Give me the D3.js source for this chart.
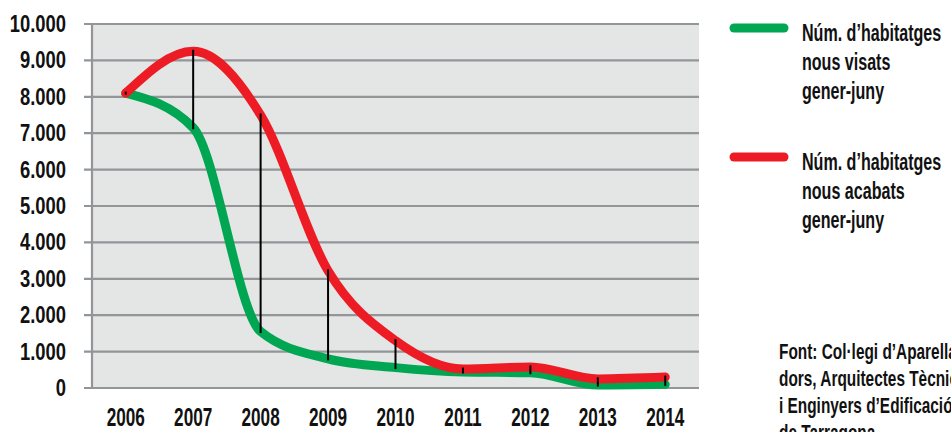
<!DOCTYPE html>
<html>
<head>
<meta charset="utf-8">
<script src="https://cdn.jsdelivr.net/npm/d3@7"></script>
<style>
  body { margin: 0; background: white; }
  text { font-family: "Liberation Sans", Arial, sans-serif; font-weight: bold; fill: #111; }
</style>
</head>
<body>
<svg id="plot"></svg>
<script>
const anys = [2006, 2007, 2008, 2009, 2010, 2011, 2012, 2013, 2014];
const visats = [8100, 7150, 1550, 800, 560, 440, 420, 80, 100];
const acabats = [8100, 9250, 7500, 3220, 1300, 520, 580, 250, 300];
const yTicks = [0, 1000, 2000, 3000, 4000, 5000, 6000, 7000, 8000, 9000, 10000];

const width = 951;
const height = 432;
const area = {top: 24, right: 699, bottom: 388, left: 92};

const plot = d3.select("#plot")
  .attr("width", width)
  .attr("height", height);

const xScale = d3.scalePoint()
  .domain(anys)
  .range([area.left, area.right])
  .padding(0.5);

const yScale = d3.scaleLinear()
  .domain([0, 10000])
  .range([area.bottom, area.top]);

const fmt = (d) => d3.format(",")(d).replace(/,/g, ".");

// text estret (la lletra original és condensada)
function texte(x, y, t, size, sx, anchor) {
  return plot.append("text")
    .attr("transform", "translate(" + x + "," + y + ") scale(" + sx + ",1)")
    .attr("text-anchor", anchor || "start")
    .style("font-size", size + "px")
    .text(t);
}

// fons gris
plot.append("rect")
  .attr("x", area.left)
  .attr("y", area.top)
  .attr("width", area.right - area.left)
  .attr("height", area.bottom - area.top)
  .attr("fill", "#e4e5e5");

// línies de la graella
plot.selectAll("line.grid")
  .data(yTicks)
  .enter()
  .append("line")
  .attr("class", "grid")
  .attr("x1", area.left - 8)
  .attr("x2", area.right)
  .attr("y1", (d) => yScale(d))
  .attr("y2", (d) => yScale(d))
  .attr("stroke", "#939598")
  .attr("stroke-width", 2.2);

// eix y
plot.append("line")
  .attr("x1", area.left)
  .attr("x2", area.left)
  .attr("y1", area.top)
  .attr("y2", area.bottom)
  .attr("stroke", "#939598")
  .attr("stroke-width", 2.2);

yTicks.forEach((d) => texte(66, yScale(d) + 8, fmt(d), 23, 0.8, "end"));
anys.forEach((d) => texte(xScale(d), 426, d, 26, 0.66, "middle"));

// sèries
const linia = (valors) => d3.line()
  .x((d, i) => xScale(anys[i]))
  .y((d) => yScale(d))
  .curve(d3.curveMonotoneX)(valors);

plot.append("path")
  .attr("d", linia(visats))
  .attr("fill", "none")
  .attr("stroke", "#00a651")
  .attr("stroke-width", 9)
  .attr("stroke-linecap", "round");

plot.append("path")
  .attr("d", linia(acabats))
  .attr("fill", "none")
  .attr("stroke", "#ed1c24")
  .attr("stroke-width", 9)
  .attr("stroke-linecap", "round");

// diferències
plot.selectAll("line.dif")
  .data(anys)
  .enter()
  .append("line")
  .attr("class", "dif")
  .attr("x1", (d) => xScale(d))
  .attr("x2", (d) => xScale(d))
  .attr("y1", (d, i) => yScale(acabats[i]) - 1.5)
  .attr("y2", (d, i) => yScale(visats[i]) + 1.5)
  .attr("stroke", "#000")
  .attr("stroke-width", 2);

// llegenda
const leyenda = [
  {color: "#00a651", y: 28, linies: ["Núm. d’habitatges", "nous visats", "gener-juny"]},
  {color: "#ed1c24", y: 157, linies: ["Núm. d’habitatges", "nous acabats", "gener-juny"]}
];

leyenda.forEach((l) => {
  plot.append("line")
    .attr("x1", 734).attr("x2", 784)
    .attr("y1", l.y).attr("y2", l.y)
    .attr("stroke", l.color)
    .attr("stroke-width", 9)
    .attr("stroke-linecap", "round");
  l.linies.forEach((t, i) => texte(802, l.y + 13 + i * 29, t, 24, 0.67));
});

// font
const font = ["Font: Col·legi d’Aparella-", "dors, Arquitectes Tècnics", "i Enginyers d’Edificació", "de Tarragona"];
font.forEach((t, i) => texte(779, 359 + i * 27, t, 22, 0.7));
</script>
</body>
</html>
